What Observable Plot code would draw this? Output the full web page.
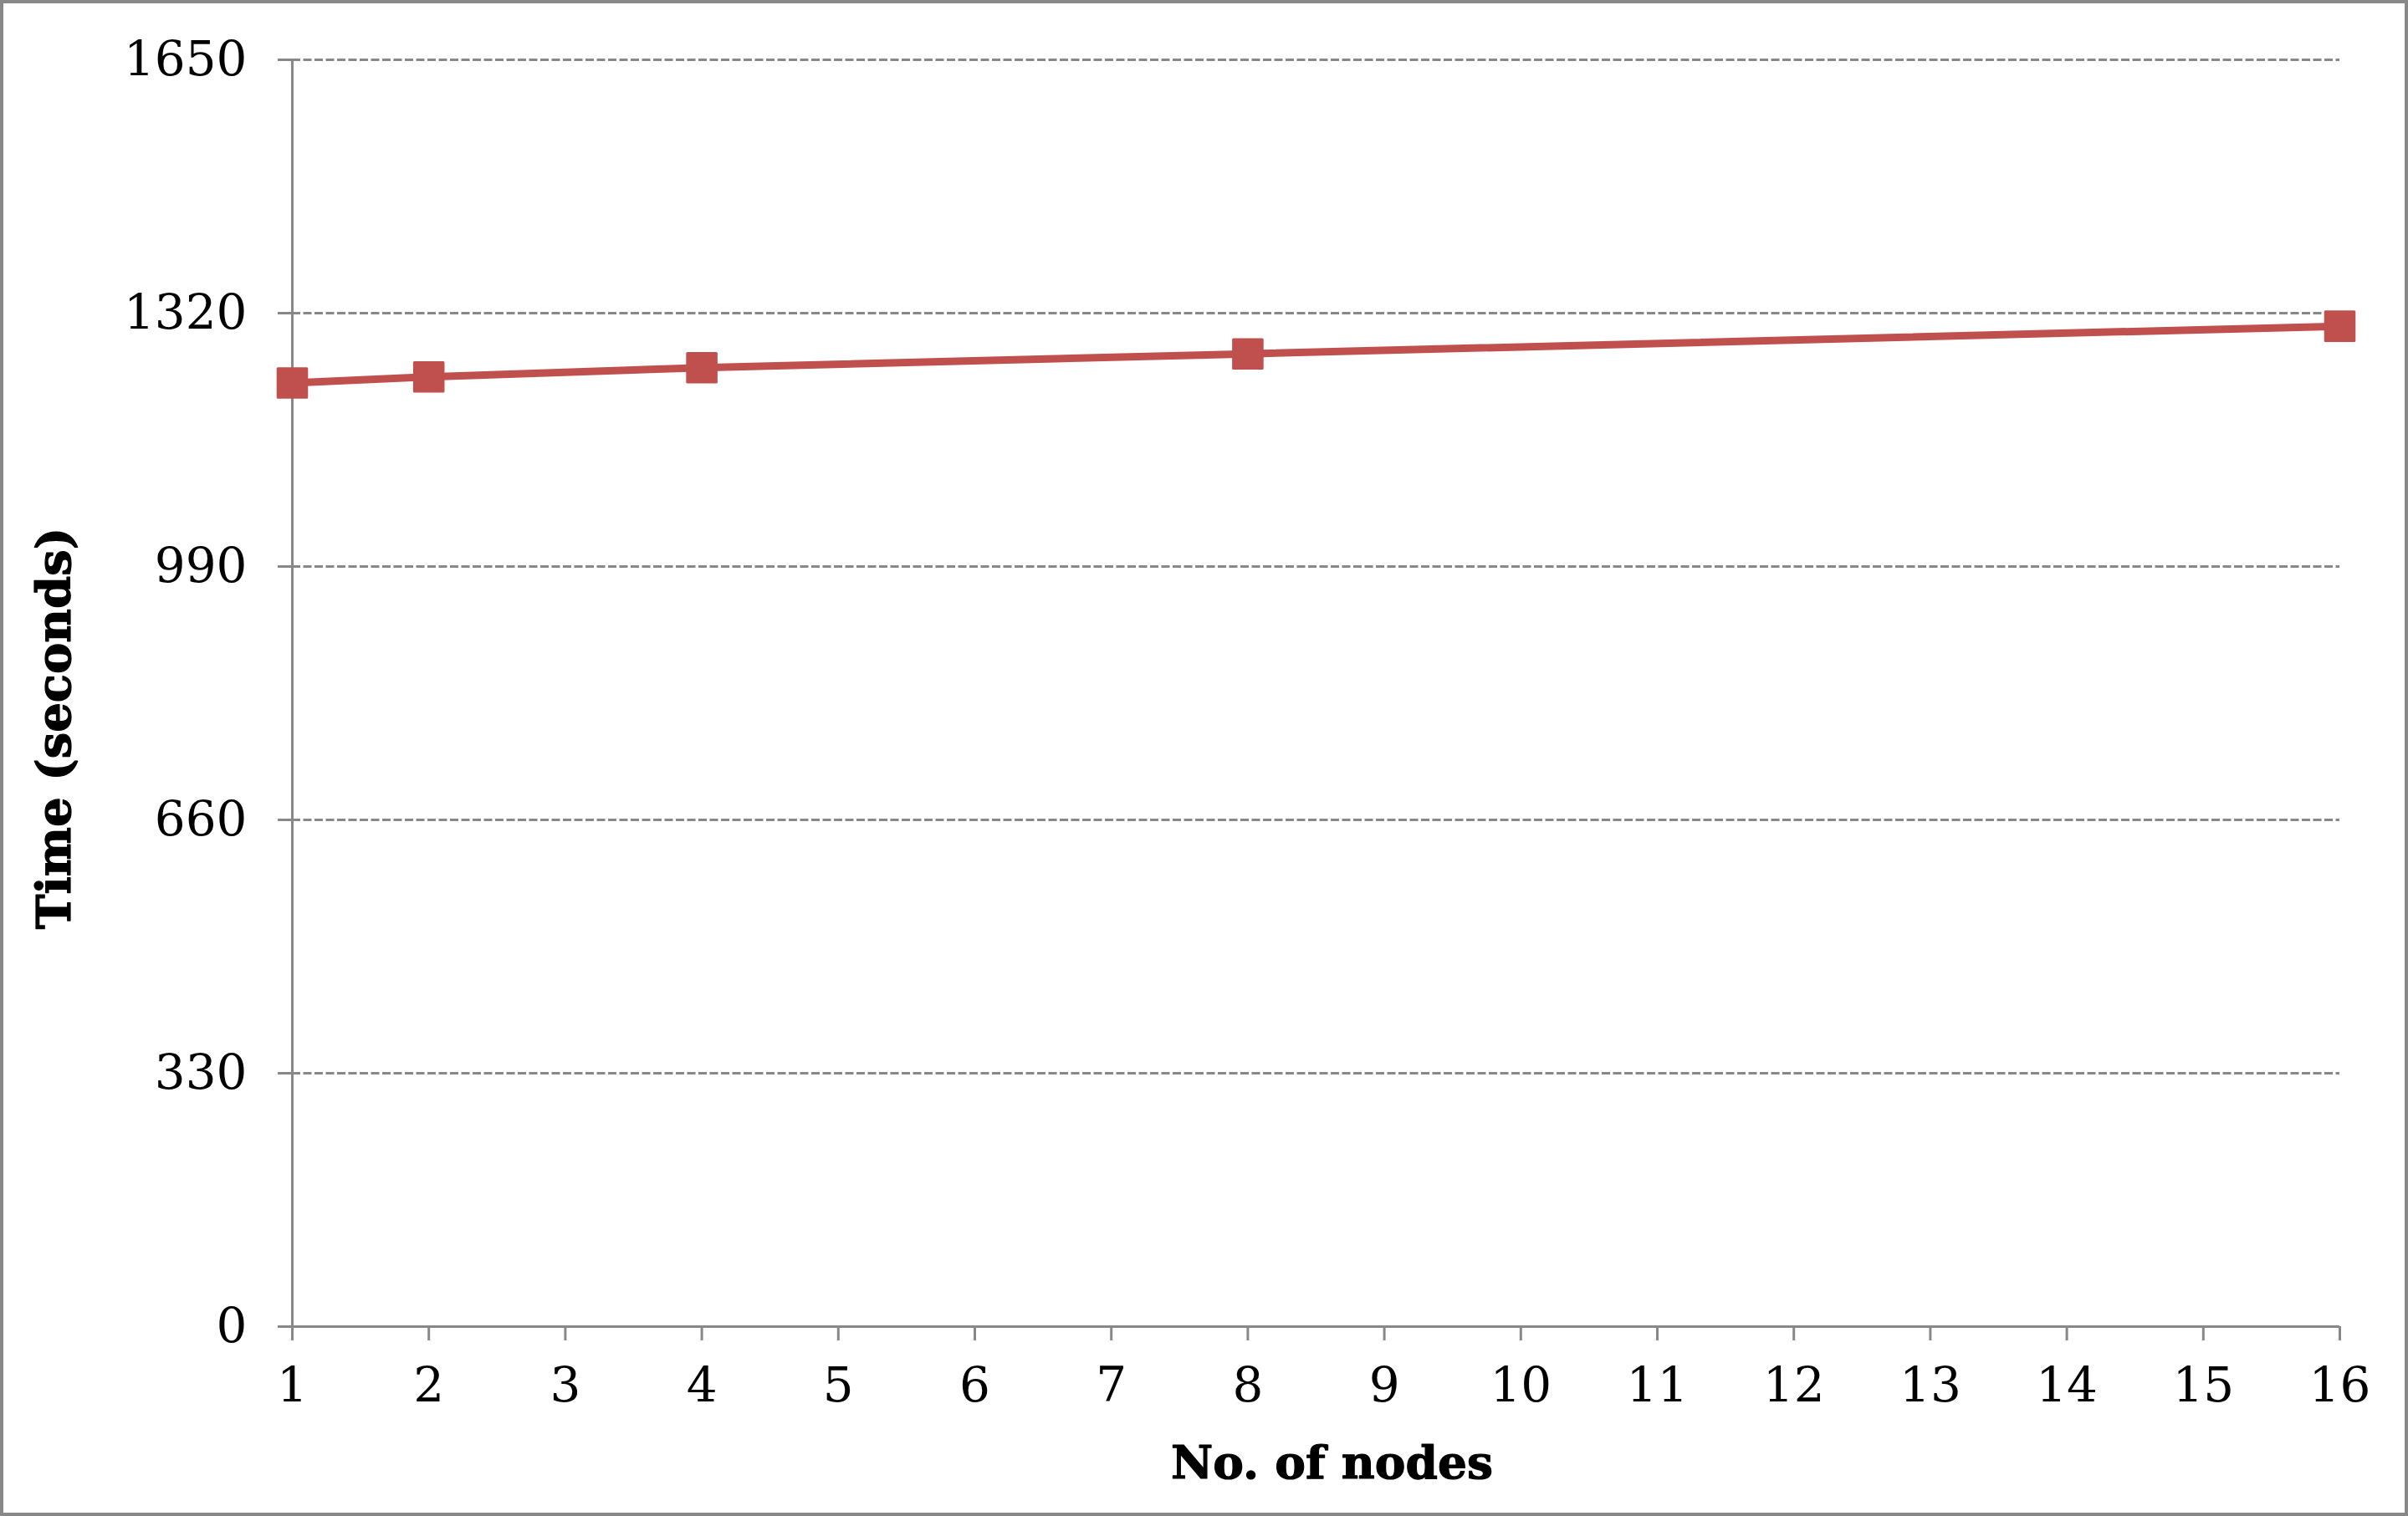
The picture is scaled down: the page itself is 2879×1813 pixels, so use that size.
<!DOCTYPE html>
<html>
<head>
<meta charset="utf-8">
<script src="https://cdn.jsdelivr.net/npm/d3@7"></script>
<script src="https://cdn.jsdelivr.net/npm/@observablehq/plot@0.6"></script>
<style>
  html, body { margin: 0; padding: 0; background: #fff; }
  #wrap { position: relative; width: 2879px; height: 1813px; overflow: hidden; }
  #frame { position: absolute; left: 0; top: 0; width: 2879px; height: 1813px; box-sizing: border-box; border: 4px solid #888; pointer-events: none; }
</style>
</head>
<body>
<div id="wrap"><div id="frame"></div></div>
<script>
// Data
const nodes = [1, 2, 4, 8, 16];
const timeSeconds = [1229, 1237, 1249, 1267, 1303];
const xTicks = [1, 2, 3, 4, 5, 6, 7, 8, 9, 10, 11, 12, 13, 14, 15, 16];
const yTicks = [0, 330, 660, 990, 1320, 1650];
const xTitle = "No. of nodes";
const yTitle = "Time (seconds)";

const data = nodes.map((n, i) => ({nodes: n, time: timeSeconds[i]}));

const red = "#C0504D";
const gray = "#888888";

const chart = Plot.plot({
  width: 2879,
  height: 1813,
  marginLeft: 349,
  marginRight: 82,
  marginTop: 71,
  marginBottom: 227,
  style: {background: "transparent", fontFamily: "'DejaVu Serif', serif", fontSize: "58px", color: "#000"},
  x: {domain: [1, 16], type: "linear"},
  y: {domain: [0, 1650]},
  marks: [
    Plot.gridY(yTicks, {stroke: gray, strokeOpacity: 1, strokeWidth: 3, strokeDasharray: "10,3.5"}),
    Plot.axisY(yTicks, {tickSize: 17, tickPadding: 37, stroke: gray, strokeWidth: 3, fill: "#000", label: null, fontSize: 58, tickFormat: d => String(d)}),
    Plot.axisX(xTicks, {tickSize: 17, tickPadding: 31, stroke: gray, strokeWidth: 3, fill: "#000", label: null, fontSize: 58, tickFormat: d => String(d)}),
    Plot.ruleX([1], {y1: 0, y2: 1650, stroke: gray, strokeWidth: 3}),
    Plot.ruleY([0], {x1: 1, x2: 16, stroke: gray, strokeWidth: 3}),
    Plot.line(data, {x: "nodes", y: "time", stroke: red, strokeWidth: 9}),
    Plot.dot(data, {x: "nodes", y: "time", symbol: "square", r: 19.5, fill: red, stroke: red, strokeWidth: 3, strokeLinejoin: "round"}),
    Plot.text([xTitle], {frameAnchor: "bottom", textAnchor: "middle", lineAnchor: "middle", dx: 19, dy: 164, text: d => d, fontWeight: "bold", fontSize: 55, fill: "#000", stroke: "#000", strokeWidth: 1.2}),
    Plot.text([yTitle], {frameAnchor: "left", textAnchor: "middle", lineAnchor: "middle", rotate: -90, dx: -283, dy: 42, text: d => d, fontWeight: "bold", fontSize: 56, fill: "#000", stroke: "#000", strokeWidth: 1.2})
  ]
});
chart.style.position = "absolute";
chart.style.left = "0";
chart.style.top = "0";
document.getElementById("wrap").insertBefore(chart, document.getElementById("frame"));
</script>
</body>
</html>
